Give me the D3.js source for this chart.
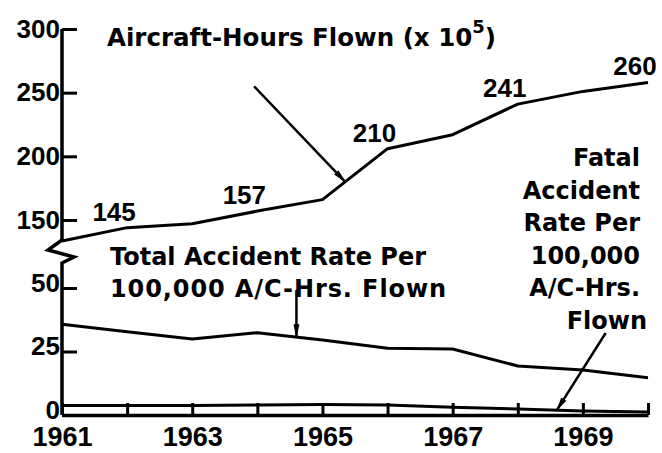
<!DOCTYPE html>
<html>
<head>
<meta charset="utf-8">
<script src="https://cdn.jsdelivr.net/npm/d3@7/dist/d3.min.js"></script>
<style>
  body { margin: 0; background: #fff; }
  svg { display: block; }
</style>
</head>
<body>
<div id="chart"></div>
<script>
// values
let years = [1961, 1962, 1963, 1964, 1965, 1966, 1967, 1968, 1969, 1970];
let aircraftHours = [133.5, 144, 147, 157, 166, 206, 217, 241, 251, 258];   // x 10^5
let totalRate = [35.7, 32.8, 29.9, 32.4, 29.5, 26.3, 26.0, 19.3, 17.7, 14.7];
let fatalRate = [3.7, 3.7, 3.7, 3.9, 4.1, 3.9, 3.1, 2.4, 1.6, 1.2];

let labelYears = [1962, 1964, 1966, 1968, 1970];
let labelTexts = ['145', '157', '210', '241', '260'];

let upperTicks = [150, 200, 250, 300];
let lowerTicks = [0, 25, 50];

let dim = {
    'width': 662,
    'height': 453
};

let numFont = '"Liberation Sans", Arial, sans-serif';
let textFont = '"DejaVu Sans", sans-serif';

let svg = d3.select('#chart').append('svg')
    .attr('width', dim.width)
    .attr('height', dim.height);

let scaleX = d3.scaleLinear().domain([1961, 1970]).range([62, 648]);
// broken y axis: hours on top, rates below
let yUp = d3.scaleLinear().domain([150, 300]).range([220, 29]);
let yLow = d3.scaleLinear().domain([0, 50]).range([415, 288]);

// piecewise lookups, used to land the arrows on the lines
let hoursAt = d3.scaleLinear().domain(years).range(aircraftHours);
let totalAt = d3.scaleLinear().domain(years).range(totalRate);
let fatalAt = d3.scaleLinear().domain(years).range(fatalRate);

let defs = svg.append('defs');
defs.append('marker')
    .attr('id', 'head')
    .attr('markerUnits', 'userSpaceOnUse')
    .attr('markerWidth', 14)
    .attr('markerHeight', 8)
    .attr('refX', 13)
    .attr('refY', 4)
    .attr('orient', 'auto')
  .append('path')
    .attr('d', 'M0,1 L14,4 L0,7 Z')
    .attr('fill', '#000');

// y axis line with the zigzag break
let x0 = scaleX(1961);
svg.append('path')
    .attr('d', d3.line()([
        [x0, yUp(300)], [x0, 240], [x0 - 14, 250], [x0 + 12, 257], [x0, 263], [x0, yLow(0)]
    ]))
    .attr('fill', 'none')
    .attr('stroke', '#000')
    .attr('stroke-width', 3.5)
    .attr('stroke-linejoin', 'miter');

let axisUp = svg.append('g')
    .attr('transform', `translate(${x0},0)`)
    .call(d3.axisLeft(yUp).tickValues(upperTicks).tickSizeInner(-15).tickSizeOuter(0).tickPadding(2));

let axisLow = svg.append('g')
    .attr('transform', `translate(${x0},0)`)
    .call(d3.axisLeft(yLow).tickValues(lowerTicks).tickSizeInner(-15).tickSizeOuter(0).tickPadding(2));
axisLow.selectAll('text').attr('dy', '0.12em');

let axisX = svg.append('g')
    .attr('transform', `translate(0,${yLow(0)})`)
    .call(d3.axisBottom(scaleX)
        .tickValues(years)
        .tickFormat(d => (d % 2 === 1 && d < 1970) ? d : '')
        .tickSizeInner(-12)
        .tickSizeOuter(0)
        .tickPadding(12));

[axisUp, axisLow].forEach(a => a.select('.domain').remove());

svg.selectAll('.tick line')
    .attr('stroke', '#000')
    .attr('stroke-width', 3);
axisX.select('.domain')
    .attr('stroke', '#000')
    .attr('stroke-width', 3.5);
svg.selectAll('.tick text')
    .attr('fill', '#000')
    .attr('font-family', numFont)
    .attr('font-weight', 'bold')
    .attr('font-size', 26);
axisX.selectAll('.tick text').attr('font-size', 27);

// the three series
let rows = years.map((y, i) => ({year: y, hours: aircraftHours[i], total: totalRate[i], fatal: fatalRate[i]}));

let series = [
    {key: 'hours', scale: yUp},
    {key: 'total', scale: yLow},
    {key: 'fatal', scale: yLow}
];

svg.selectAll('path.series')
    .data(series)
    .join('path')
    .attr('class', 'series')
    .attr('d', s => d3.line().x(d => scaleX(d.year)).y(d => s.scale(d[s.key]))(rows))
    .attr('fill', 'none')
    .attr('stroke', '#000')
    .attr('stroke-width', 3)
    .attr('stroke-linejoin', 'round');

// value labels on the hours line
svg.selectAll('text.val')
    .data(labelYears)
    .join('text')
    .attr('class', 'val')
    .attr('x', d => scaleX(d) - 13)
    .attr('y', d => yUp(hoursAt(d)) - 7)
    .attr('text-anchor', 'middle')
    .attr('font-family', numFont)
    .attr('font-weight', 'bold')
    .attr('font-size', 26)
    .text((d, i) => labelTexts[i]);

// captions
let title = svg.append('text')
    .attr('x', 107)
    .attr('y', 46)
    .attr('font-family', textFont)
    .attr('font-weight', 'bold')
    .attr('font-size', 24.5);
title.append('tspan').text('Aircraft-Hours Flown (x 10');
title.append('tspan').attr('dy', -13).attr('font-size', 18).text('5');
title.append('tspan').attr('dy', 13).text(')');

let totalCaption = ['Total Accident Rate Per', '100,000 A/C-Hrs. Flown'];
let totalText = svg.selectAll('text.total')
    .data(totalCaption)
    .join('text')
    .attr('class', 'total')
    .attr('x', 110)
    .attr('y', (d, i) => 265 + i * 32)
    .attr('font-family', textFont)
    .attr('font-weight', 'bold')
    .attr('font-size', 24)
    .attr('letter-spacing', (d, i) => i === 1 ? 0.9 : 0)
    .text(d => d);

let fatalCaption = ['Fatal', 'Accident', 'Rate Per', '100,000', 'A/C-Hrs.', 'Flown'];
svg.selectAll('text.fatal')
    .data(fatalCaption)
    .join('text')
    .attr('class', 'fatal')
    .attr('x', (d, i) => i === 5 ? 647 : 640)
    .attr('y', (d, i) => 166 + i * 32.5)
    .attr('text-anchor', 'end')
    .attr('font-family', textFont)
    .attr('font-weight', 'bold')
    .attr('font-size', 24)
    .text(d => d);

// the total-rate pointer drops from the stem of the "H" in "Hrs."
let line2 = totalText.nodes()[1];
let hX = 110 + line2.getSubStringLength(0, totalCaption[1].indexOf('H')) + 2.5;
let hYear = scaleX.invert(hX);

// pointer arrows: start point, then the year where they hit a line
let arrows = [
    {from: [scaleX(1963.95), yUp(255)], to: [scaleX(1965.35), yUp(hoursAt(1965.35))]},
    {from: [hX, yLow(49.2)], to: [hX, yLow(totalAt(hYear))]},
    {from: [scaleX(1969.35), yLow(32.3)], to: [scaleX(1968.6), yLow(fatalAt(1968.6))]}
];

svg.selectAll('line.arrow')
    .data(arrows)
    .join('line')
    .attr('class', 'arrow')
    .attr('x1', d => d.from[0])
    .attr('y1', d => d.from[1])
    .attr('x2', d => d.to[0])
    .attr('y2', d => d.to[1])
    .attr('stroke', '#000')
    .attr('stroke-width', 2.5)
    .attr('marker-end', 'url(#head)');
</script>
</body>
</html>
